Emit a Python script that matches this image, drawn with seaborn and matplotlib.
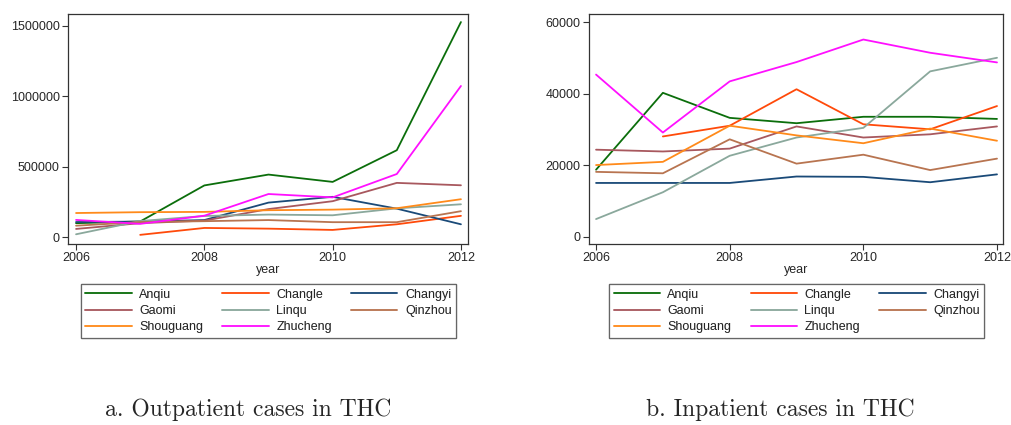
import numpy as np
import pandas as pd
import matplotlib
matplotlib.use("Agg")
import matplotlib.pyplot as plt
import seaborn as sns
from matplotlib.lines import Line2D

years = [2006, 2007, 2008, 2009, 2010, 2011, 2012]
counties = ["Anqiu", "Changle", "Changyi", "Gaomi", "Linqu", "Qinzhou", "Shouguang", "Zhucheng"]

# Outpatient cases per county and year
outpatient_anqiu = [100000, 112000, 368000, 445000, 393000, 618000, 1528000]
outpatient_changle = [np.nan, 17000, 66000, 61000, 52000, 92000, 152000]
outpatient_changyi = [108000, 111000, 122000, 246000, 287000, 203000, 92000]
outpatient_gaomi = [59000, 100000, 118000, 200000, 256000, 386000, 369000]
outpatient_linqu = [21000, 115000, 151000, 161000, 156000, 205000, 234000]
outpatient_qinzhou = [82000, 108000, 114000, 122000, 107000, 107000, 185000]
outpatient_shouguang = [172000, 178000, 180000, 192000, 196000, 206000, 270000]
outpatient_zhucheng = [123000, 95000, 153000, 307000, 283000, 449000, 1074000]

# Inpatient cases per county and year
inpatient_anqiu = [18800, 40300, 33300, 31800, 33600, 33600, 33000]
inpatient_changle = [np.nan, 28100, 31100, 41300, 31500, 30100, 36600]
inpatient_changyi = [15100, 15100, 15100, 16900, 16800, 15300, 17500]
inpatient_gaomi = [24400, 23900, 24700, 30900, 27800, 28700, 30900]
inpatient_linqu = [5000, 12500, 22700, 27800, 30500, 46300, 50100]
inpatient_qinzhou = [18200, 17800, 27300, 20500, 23000, 18700, 21900]
inpatient_shouguang = [20100, 21000, 31100, 28400, 26200, 30300, 26900]
inpatient_zhucheng = [45400, 29200, 43500, 48900, 55200, 51500, 48800]

palette = {
    "Anqiu": "#0b6e0b",
    "Changle": "#ff4a0a",
    "Changyi": "#1a4a78",
    "Gaomi": "#a8585e",
    "Linqu": "#8aa89c",
    "Qinzhou": "#b87450",
    "Shouguang": "#ff8a1a",
    "Zhucheng": "#ff10ff",
}


def long_table(series):
    rows = []
    for name, vals in zip(counties, series):
        for y, v in zip(years, vals):
            rows.append({"year": y, "county": name, "cases": v})
    return pd.DataFrame(rows)


out_df = long_table([outpatient_anqiu, outpatient_changle, outpatient_changyi, outpatient_gaomi,
                     outpatient_linqu, outpatient_qinzhou, outpatient_shouguang, outpatient_zhucheng])
in_df = long_table([inpatient_anqiu, inpatient_changle, inpatient_changyi, inpatient_gaomi,
                    inpatient_linqu, inpatient_qinzhou, inpatient_shouguang, inpatient_zhucheng])

sns.set_style("white")
plt.rcParams["font.family"] = ["Liberation Sans", "DejaVu Sans"]

fig = plt.figure(figsize=(10.11, 4.25), dpi=100)
ax1 = fig.add_axes([0.0673, 0.426, 0.3956, 0.541])
ax2 = fig.add_axes([0.5823, 0.426, 0.4098, 0.541])

for ax, df in ((ax1, out_df), (ax2, in_df)):
    sns.lineplot(data=df.dropna(), x="year", y="cases", hue="county", hue_order=counties,
                 palette=palette, linewidth=1.3, ax=ax, legend=False, estimator=None)
    ax.set_xticks([2006, 2008, 2010, 2012])
    ax.set_ylabel("")
    ax.set_xlabel("year", fontsize=9, labelpad=0)
    ax.tick_params(axis="both", labelsize=9, length=4, width=0.8, color="#333333",
                   direction="out", bottom=True, left=True, pad=2)
    for s in ax.spines.values():
        s.set_color("#333333")
        s.set_linewidth(0.9)

ax1.set_xlim(2005.875, 2012.11)
ax1.set_ylim(-47600, 1585000)
ax1.set_yticks([0, 500000, 1000000, 1500000])
ax1.set_yticklabels(["0", "500000", "1000000", "1500000"])

ax2.set_xlim(2005.89, 2012.09)
ax2.set_ylim(-1956, 62330)
ax2.set_yticks([0, 20000, 40000, 60000])
ax2.set_yticklabels(["0", "20000", "40000", "60000"])

# legend entries laid out row by row in three columns
order = ["Anqiu", "Gaomi", "Shouguang", "Changle", "Linqu", "Zhucheng", "Changyi", "Qinzhou"]
handles = [Line2D([0], [0], color=palette[c], linewidth=1.3) for c in order]
for x0, width in ((0.080, 0.371), (0.6025, 0.371)):
    leg = fig.legend(handles, order, loc="upper left", bbox_to_anchor=(x0, 0.331, width, 0.0),
                     mode="expand", ncol=3, fontsize=9, frameon=True, fancybox=False,
                     handlelength=3.7, handletextpad=0.6, labelspacing=0.35,
                     borderpad=0.35, borderaxespad=0.0, columnspacing=1.5)
    leg.get_frame().set_edgecolor("#555555")
    leg.get_frame().set_linewidth(0.9)
    fig.add_artist(leg)

fig.text(0.245, 0.036, "a. Outpatient cases in THC", family="cmr10", fontsize=17,
         ha="center", va="center")
fig.text(0.772, 0.036, "b. Inpatient cases in THC", family="cmr10", fontsize=17,
         ha="center", va="center")

fig.savefig("out.png", dpi=100, facecolor="white")
